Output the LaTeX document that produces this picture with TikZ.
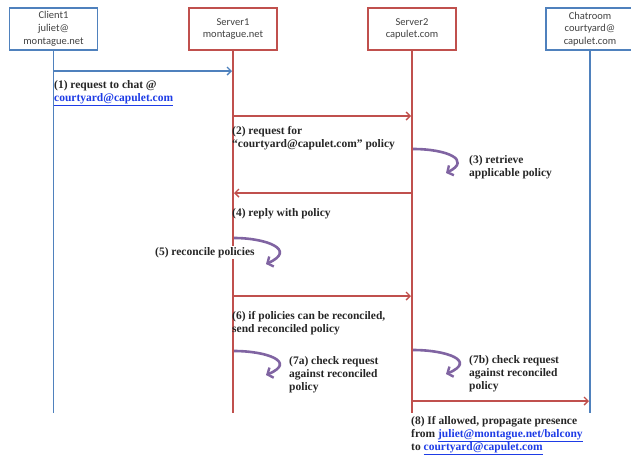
\documentclass[tikz,border=0pt]{standalone}
\usepackage{fontspec}
\setmainfont{Liberation Serif}
\newfontfamily\boxfont{Carlito}
\usetikzlibrary{arrows.meta}
\definecolor{cblue}{RGB}{79,129,189}
\definecolor{cred}{RGB}{192,80,77}
\definecolor{cpurple}{RGB}{128,100,162}
\definecolor{linkblue}{RGB}{30,60,230}
\newcommand{\lnk}[1]{\textcolor{linkblue}{\underline{#1}}}
\begin{document}
\begin{tikzpicture}[x=1pt,y=-1pt,
  actor/.style={draw=#1,line width=1.6pt,minimum width=88pt,minimum height=42pt,align=center,font=\boxfont\fontsize{10.5}{12.8}\selectfont,text=black!75,inner sep=1pt},
  life/.style={draw=#1,line width=1.6pt},
  msg/.style={draw=#1,line width=1.6pt,-{Straight Barb[length=4pt,width=8pt,line width=1.4pt]}},
  curl/.style={draw=cpurple,line width=2.6pt,-{Straight Barb[length=4.5pt,width=11pt,line width=2.4pt]}},
  lbl/.style={anchor=north west,inner sep=0pt,align=left,font=\bfseries\fontsize{11.5}{13}\selectfont,text=black!85}]
\useasboundingbox (0,0) rectangle (631,456);
% actors
\node[actor=cblue] (c1) at (53.5,29) {Client1\\juliet@\\montague.net};
\node[actor=cred] (s1) at (233,29) {Server1\\montague.net};
\node[actor=cred] (s2) at (412,29) {Server2\\capulet.com};
\node[actor=cblue] (cr) at (590,29) {Chatroom\\courtyard@\\capulet.com};
% lifeline ends
\coordinate (c1e) at (53.5,413);
\coordinate (s1e) at (233,413);
\coordinate (s2e) at (412,413);
\coordinate (cre) at (590,413);
\draw[life=cblue] (c1.south) -- (c1e);
\draw[life=cred] (s1.south) -- (s1e);
\draw[life=cred] (s2.south) -- (s2e);
\draw[life=cblue] (cr.south) -- (cre);
% messages
\coordinate (m1a) at (53.5,71); \coordinate (m1b) at (232,71);
\draw[msg=cblue] (m1a) -- (m1b);
\coordinate (m2a) at (233,116); \coordinate (m2b) at (411,116);
\draw[msg=cred] (m2a) -- (m2b);
\coordinate (m4a) at (412,193); \coordinate (m4b) at (234,193);
\draw[msg=cred] (m4a) -- (m4b);
\coordinate (m6a) at (233,296); \coordinate (m6b) at (411,296);
\draw[msg=cred] (m6a) -- (m6b);
\coordinate (m8a) at (412,401); \coordinate (m8b) at (589,401);
\draw[msg=cred] (m8a) -- (m8b);
% curls
\coordinate (k3a) at (413,149); \coordinate (k3b) at (446,173);
\draw[curl] (k3a) .. controls (447,149) and (472,160) .. (k3b);
\coordinate (k5a) at (234,238); \coordinate (k5b) at (266,264);
\draw[curl] (k5a) .. controls (267,238) and (297,250) .. (k5b);
\coordinate (k7a) at (234,351); \coordinate (k7b) at (266,375);
\draw[curl] (k7a) .. controls (267,351) and (297,362) .. (k7b);
\coordinate (k8a) at (413,350); \coordinate (k8b) at (446,374);
\draw[curl] (k8a) .. controls (447,350) and (477,361) .. (k8b);
% labels
\node[lbl] (l1) at (54,80) {(1) request to chat @\\\lnk{courtyard@capulet.com}};
\node[lbl] (l2) at (232,126) {(2) request for\\``courtyard@capulet.com'' policy};
\node[lbl] (l3) at (469,155) {(3) retrieve\\applicable policy};
\node[lbl] (l4) at (232,208) {(4) reply with policy};
\node[lbl,fill=white,inner sep=1pt] (l5) at (154,246) {(5) reconcile policies};
\node[lbl] (l6) at (232,311) {(6) if policies can be reconciled,\\send reconciled policy};
\node[lbl] (l7a) at (289,356) {(7a) check request\\against reconciled\\policy};
\node[lbl] (l7b) at (469,355) {(7b) check request\\against reconciled\\policy};
\node[lbl] (l8) at (411,416) {(8) If allowed, propagate presence\\from \lnk{juliet@montague.net/balcony}\\to \lnk{courtyard@capulet.com}};
\end{tikzpicture}
\end{document}
